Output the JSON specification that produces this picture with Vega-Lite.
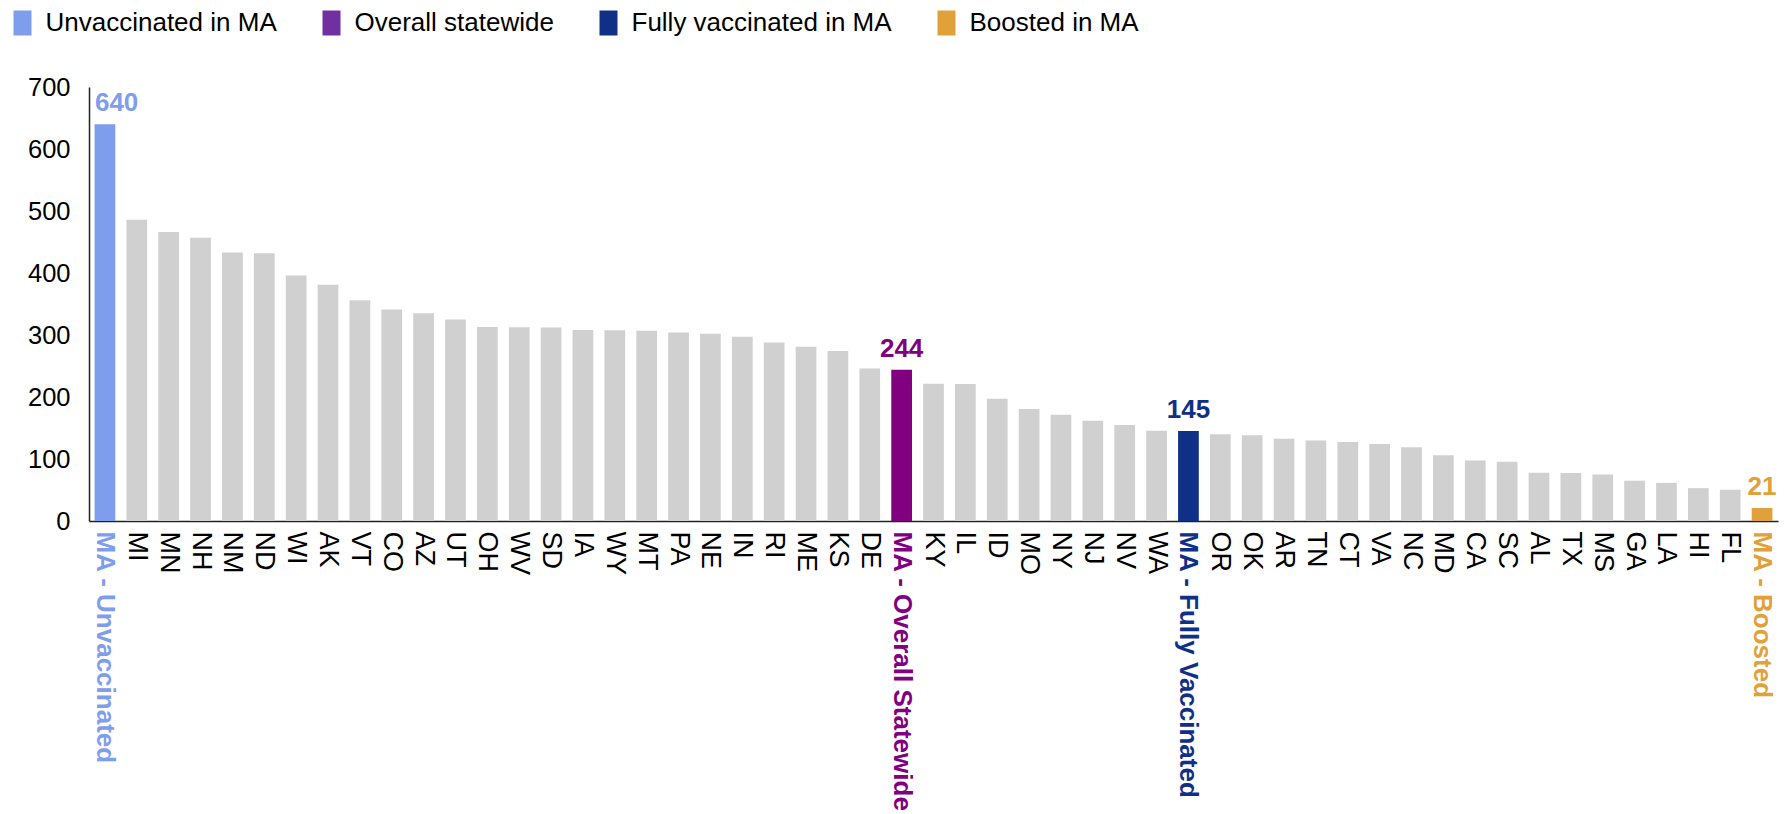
{
  "$schema": "https://vega.github.io/schema/vega-lite/v6.json",
  "width": 1689,
  "height": 434,
  "autosize": {"type": "none"},
  "padding": {"left": 89, "top": 87, "right": 9, "bottom": 293},
  "background": "white",
  "config": {"view": {"stroke": null}, "font": "Liberation Sans"},
  "data": {
    "values": [
      {"state": "MA - Unvaccinated", "value": 640, "group": "Unvaccinated in MA"},
      {"state": "MI", "value": 486, "group": "State"},
      {"state": "MN", "value": 466, "group": "State"},
      {"state": "NH", "value": 457, "group": "State"},
      {"state": "NM", "value": 433, "group": "State"},
      {"state": "ND", "value": 432, "group": "State"},
      {"state": "WI", "value": 396, "group": "State"},
      {"state": "AK", "value": 381, "group": "State"},
      {"state": "VT", "value": 356, "group": "State"},
      {"state": "CO", "value": 341, "group": "State"},
      {"state": "AZ", "value": 335, "group": "State"},
      {"state": "UT", "value": 325, "group": "State"},
      {"state": "OH", "value": 313, "group": "State"},
      {"state": "WV", "value": 312.5, "group": "State"},
      {"state": "SD", "value": 312, "group": "State"},
      {"state": "IA", "value": 308, "group": "State"},
      {"state": "WY", "value": 307.5, "group": "State"},
      {"state": "MT", "value": 307, "group": "State"},
      {"state": "PA", "value": 304, "group": "State"},
      {"state": "NE", "value": 302, "group": "State"},
      {"state": "IN", "value": 297, "group": "State"},
      {"state": "RI", "value": 288, "group": "State"},
      {"state": "ME", "value": 281, "group": "State"},
      {"state": "KS", "value": 274, "group": "State"},
      {"state": "DE", "value": 246, "group": "State"},
      {"state": "MA - Overall Statewide", "value": 244, "group": "Overall statewide"},
      {"state": "KY", "value": 221.5, "group": "State"},
      {"state": "IL", "value": 221, "group": "State"},
      {"state": "ID", "value": 197, "group": "State"},
      {"state": "MO", "value": 180.5, "group": "State"},
      {"state": "NY", "value": 171.5, "group": "State"},
      {"state": "NJ", "value": 161.5, "group": "State"},
      {"state": "NV", "value": 155, "group": "State"},
      {"state": "WA", "value": 145.5, "group": "State"},
      {"state": "MA - Fully Vaccinated", "value": 145, "group": "Fully vaccinated in MA"},
      {"state": "OR", "value": 140, "group": "State"},
      {"state": "OK", "value": 138.5, "group": "State"},
      {"state": "AR", "value": 132.5, "group": "State"},
      {"state": "TN", "value": 130, "group": "State"},
      {"state": "CT", "value": 127.5, "group": "State"},
      {"state": "VA", "value": 124, "group": "State"},
      {"state": "NC", "value": 119, "group": "State"},
      {"state": "MD", "value": 106, "group": "State"},
      {"state": "CA", "value": 97.5, "group": "State"},
      {"state": "SC", "value": 95.5, "group": "State"},
      {"state": "AL", "value": 78, "group": "State"},
      {"state": "TX", "value": 77.5, "group": "State"},
      {"state": "MS", "value": 75, "group": "State"},
      {"state": "GA", "value": 65, "group": "State"},
      {"state": "LA", "value": 61.5, "group": "State"},
      {"state": "HI", "value": 53, "group": "State"},
      {"state": "FL", "value": 50.5, "group": "State"},
      {"state": "MA - Boosted", "value": 21, "group": "Boosted in MA"}
    ]
  },
  "encoding": {
    "x": {
      "field": "state",
      "type": "nominal",
      "sort": null,
      "scale": {"paddingInner": 0.35, "paddingOuter": 0.175},
      "axis": {
        "title": null,
        "labelAngle": 90,
        "labelAlign": "left",
        "labelBaseline": "middle",
        "labelPadding": 10,
        "ticks": false,
        "tickSize": 0,
        "labelOverlap": false,
        "labelBound": false,
        "labelFlush": false,
        "labelLimit": 0,
        "labelFontSize": {"expr": "indexof(datum.value, 'MA - ') == 0 ? 26 : 27"},
        "labelFontWeight": {"expr": "indexof(datum.value, 'MA - ') == 0 ? 'bold' : 'normal'"},
        "labelColor": {"expr": "datum.value == 'MA - Unvaccinated' ? '#7f9ded' : datum.value == 'MA - Overall Statewide' ? '#800080' : datum.value == 'MA - Fully Vaccinated' ? '#102f86' : datum.value == 'MA - Boosted' ? '#e0a03a' : '#000000'"},
        "domainColor": "#222222",
        "domainWidth": 1.5
      }
    }
  },
  "layer": [
    {
      "mark": {"type": "bar"},
      "encoding": {
        "y": {
          "field": "value",
          "type": "quantitative",
          "scale": {"domain": [0, 700], "nice": false},
          "axis": {
            "title": null,
            "values": [0, 100, 200, 300, 400, 500, 600, 700],
            "ticks": false,
            "tickSize": 0,
            "grid": false,
            "labelPadding": 19,
            "labelFontSize": 25.5,
            "labelColor": "#000000",
            "domainColor": "#222222",
            "domainWidth": 1.5
          }
        },
        "fill": {
          "field": "group",
          "type": "nominal",
          "scale": {
            "domain": ["Unvaccinated in MA", "Overall statewide", "Fully vaccinated in MA", "Boosted in MA", "State"],
            "range": ["#7f9ded", "#800080", "#102f86", "#e0a03a", "#d0d0d0"]
          },
          "legend": null
        }
      }
    },
    {
      "transform": [{"filter": "datum.group != 'State'"}],
      "mark": {"type": "square", "opacity": 0},
      "encoding": {
        "y": {"field": "value", "type": "quantitative"},
        "color": {
          "field": "group",
          "type": "nominal",
          "scale": {
            "domain": ["Unvaccinated in MA", "Overall statewide", "Fully vaccinated in MA", "Boosted in MA"],
            "range": ["#7f9ded", "#7030a0", "#102f86", "#e0a03a"]
          },
          "legend": {
            "title": null,
            "orient": "none",
            "legendX": -79.5,
            "legendY": -77,
            "direction": "horizontal",
            "columns": 4,
            "columnPadding": 41,
            "labelOffset": 10,
            "labelFontSize": 26,
            "labelColor": "#000000",
            "labelLimit": 400,
            "symbolSize": 625,
            "symbolType": "M-0.72,-1h1.44v2h-1.44Z",
            "symbolOpacity": 1,
            "symbolStrokeWidth": 0,
            "padding": 0
          }
        }
      }
    },
    {
      "transform": [{"filter": "datum.state == 'MA - Unvaccinated'"}],
      "mark": {"type": "text", "align": "left", "baseline": "alphabetic", "dx": -10, "dy": -13, "fontSize": 26, "fontWeight": "bold"},
      "encoding": {
        "y": {"field": "value", "type": "quantitative"},
        "text": {"field": "value", "type": "quantitative"},
        "fill": {"field": "group", "type": "nominal", "legend": null}
      }
    },
    {
      "transform": [{"filter": "datum.group != 'State' && datum.state != 'MA - Unvaccinated'"}],
      "mark": {"type": "text", "align": "center", "baseline": "alphabetic", "dy": -13, "fontSize": 26, "fontWeight": "bold"},
      "encoding": {
        "y": {"field": "value", "type": "quantitative"},
        "text": {"field": "value", "type": "quantitative"},
        "fill": {"field": "group", "type": "nominal", "legend": null}
      }
    }
  ]
}
